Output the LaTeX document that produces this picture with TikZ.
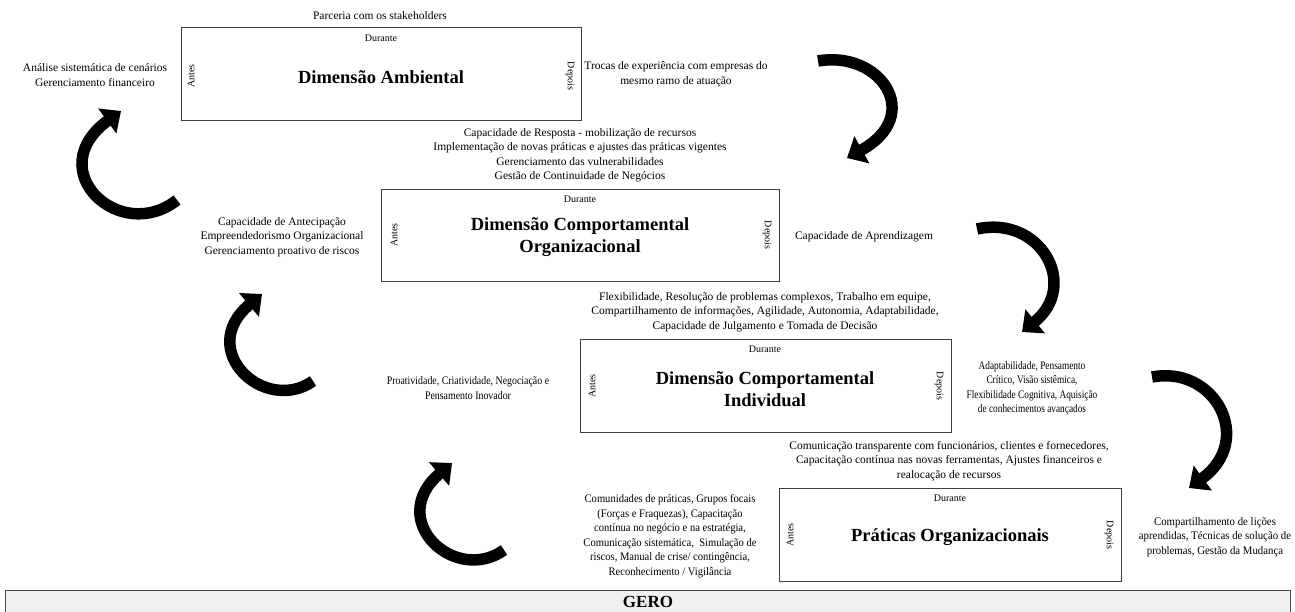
\documentclass[tikz,border=0pt]{standalone}
\usepackage{fontspec}
\setmainfont{Liberation Serif}
\usetikzlibrary{arrows.meta}
\tikzset{
    dimbox/.style={draw=black!75, line width=0.9pt},
    txt/.style={align=center, inner sep=0pt, font=\fontsize{11.5}{14.5}\selectfont},
    narrow/.style={align=center, inner sep=0pt, font=\fontsize{11.5}{14.5}\selectfont\addfontfeature{FakeStretch=#1}},
    tiny/.style={inner sep=0pt, font=\fontsize{10}{11}\selectfont},
    dimtitle/.style={align=center, inner sep=0pt, font=\fontsize{18.5}{22.5}\selectfont\bfseries},
    cyclearrow/.style={line width=11.5pt, -{Triangle[width=30pt,length=17pt]}}
}
\begin{document}
\begin{tikzpicture}[x=1pt,y=-1pt]
    \useasboundingbox (0,0) rectangle (1295,611);
    \node[dimbox, minimum width=400, minimum height=93] (amb) at (381,73.5) {};
    \node[dimbox, minimum width=398, minimum height=92] (org) at (580,235) {};
    \node[dimbox, minimum width=371, minimum height=93] (ind) at (765.5,385.5) {};
    \node[dimbox, minimum width=342, minimum height=93] (prat) at (950,534.5) {};
    \draw[draw=black!70, line width=0.9pt, fill=black!6] (5,590) rectangle (1290,625);
    \node[dimtitle, font=\fontsize{17}{20}\selectfont\bfseries] (gero) at (648,601.5) {GERO};

    \node[dimtitle] (ambt) at (381,77) {Dimensão Ambiental};
    \node[tiny] (ambd) at (381,38) {Durante};
    \node[tiny, rotate=90] (amba) at (191,76) {Antes};
    \node[tiny, rotate=-90] (ambp) at (570,76) {Depois};

    \node[dimtitle] (orgt) at (580,237) {Dimensão Comportamental\\Organizacional};
    \node[tiny] (orgd) at (580,199) {Durante};
    \node[tiny, rotate=90] (orga) at (394,235) {Antes};
    \node[tiny, rotate=-90] (orgp) at (767,235) {Depois};

    \node[dimtitle] (indt) at (765,389) {Dimensão Comportamental\\Individual};
    \node[tiny] (indd) at (765,349) {Durante};
    \node[tiny, rotate=90] (inda) at (592,386) {Antes};
    \node[tiny, rotate=-90] (indp) at (939,386) {Depois};

    \node[dimtitle] (pratt) at (950,537) {Práticas Organizacionais};
    \node[tiny] (pratd) at (950,498) {Durante};
    \node[tiny, rotate=90] (prata) at (790,535) {Antes};
    \node[tiny, rotate=-90] (pratp) at (1109,535) {Depois};

    \node[txt] (parc) at (380,16) {Parceria com os stakeholders};
    \node[txt] (anal) at (95,75) {Análise sistemática de cenários\\Gerenciamento financeiro};
    \node[txt] (trocas) at (676,74) {Trocas de experiência com empresas do\\mesmo ramo de atuação};
    \node[txt] (resp) at (580,155) {Capacidade de Resposta - mobilização de recursos\\Implementação de novas práticas e ajustes das práticas vigentes\\Gerenciamento das vulnerabilidades\\Gestão de Continuidade de Negócios};
    \node[txt] (antec) at (282,237) {Capacidade de Antecipação\\Empreendedorismo Organizacional\\Gerenciamento proativo de riscos};
    \node[txt] (aprend) at (864,237) {Capacidade de Aprendizagem};
    \node[txt] (flex) at (765,312) {Flexibilidade, Resolução de problemas complexos, Trabalho em equipe,\\Compartilhamento de informações, Agilidade, Autonomia, Adaptabilidade,\\Capacidade de Julgamento e Tomada de Decisão};
    \node[narrow=0.86] (proat) at (468,388) {Proatividade, Criatividade, Negociação e\\Pensamento Inovador};
    \node[narrow=0.81] (adapt) at (1032,388) {Adaptabilidade, Pensamento\\Crítico, Visão sistêmica,\\Flexibilidade Cognitiva, Aquisição\\de conhecimentos avançados};
    \node[txt] (comtr) at (949,461) {Comunicação transparente com funcionários, clientes e fornecedores,\\Capacitação contínua nas novas ferramentas, Ajustes financeiros e\\realocação de recursos};
    \node[narrow=0.92] (comun) at (670,536) {Comunidades de práticas, Grupos focais\\(Forças e Fraquezas), Capacitação\\contínua no negócio e na estratégia,\\Comunicação sistemática,\ \ Simulação de\\riscos, Manual de crise/ contingência,\\Reconhecimento / Vigilância};
    \node[narrow=0.94] (compart) at (1215,537) {Compartilhamento de lições\\aprendidas, Técnicas de solução de\\problemas, Gestão da Mudança};

    \draw[cyclearrow] (818,61) .. controls (880,50) and (925,115) .. (847,158);
    \draw[cyclearrow] (977,229) .. controls (1040,215) and (1080,285) .. (1022,332);
    \draw[cyclearrow] (1152,377) .. controls (1215,365) and (1255,440) .. (1189,488);
    \draw[cyclearrow] (177,200) .. controls (120,245) and (40,170) .. (121,111);
    \draw[cyclearrow] (313,381) .. controls (265,415) and (195,350) .. (262,294);
    \draw[cyclearrow] (504,550) .. controls (455,585) and (385,520) .. (452,463);
\end{tikzpicture}
\end{document}
